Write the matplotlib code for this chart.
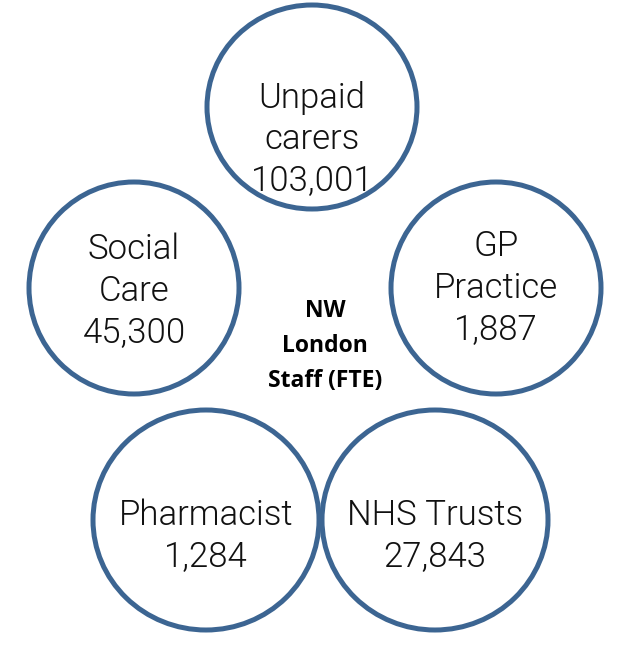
import matplotlib.pyplot as plt
from matplotlib.patches import Ellipse

# data
labels = ["Unpaid\ncarers", "Social\nCare", "GP\nPractice", "Pharmacist", "NHS Trusts"]
values = [103001, 45300, 1887, 1284, 27843]
centre_label = "NW\nLondon\nStaff (FTE)"

# layout in pixel coordinates (x, y, width, height)
layout = [
    (312, 107, 210, 204),
    (134, 288, 210, 212),
    (496, 288, 210, 212),
    (206, 520, 226, 220),
    (435, 520, 226, 220),
]
text_y = [139, 291, 288, 536, 536]

EDGE = "#3c6592"

fig = plt.figure(figsize=(6.25, 6.56), dpi=100)
ax = fig.add_axes([0, 0, 1, 1])
ax.set_xlim(0, 625)
ax.set_ylim(656, 0)
ax.axis("off")

for (x, y, w, h), lab, val, ty in zip(layout, labels, values, text_y):
    ax.add_patch(Ellipse((x, y), w, h, facecolor="none", edgecolor=EDGE, linewidth=3.6))
    ax.text(x, ty, f"{lab}\n{val:,}", ha="center", va="center", fontsize=25,
            family="Roboto", fontweight=300, color="#111111", linespacing=1.3)

ax.text(325, 346, centre_label, ha="center", va="center", fontsize=16.5,
        family="Open Sans", fontweight="bold", color="black", linespacing=1.6)

fig.savefig("out.png", dpi=100)
plt.close(fig)
